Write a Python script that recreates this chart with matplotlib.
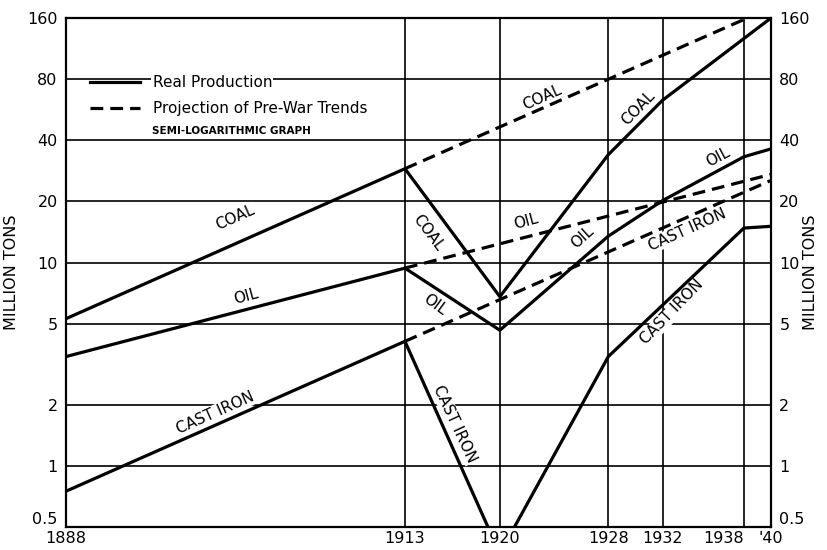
import numpy as np
import matplotlib
matplotlib.use('Agg')
from matplotlib import pyplot as plt
from matplotlib.lines import Line2D

# real production (million tons)
coal_years = [1888, 1913, 1920, 1928, 1932, 1940]
coal_real = [5.3, 29, 6.8, 34, 63, 160]
oil_years = [1888, 1913, 1920, 1928, 1932, 1938, 1940]
oil_real = [3.45, 9.4, 4.65, 13.5, 20.2, 33.2, 36.3]
iron_years = [1888, 1913, 1920, 1928, 1938, 1940]
iron_real = [0.75, 4.1, 0.37, 3.45, 14.8, 15.1]

# projection of pre-war trends
proj_years = [1913, 1940]
coal_proj = [29, 180]
oil_proj = [9.4, 27.2]
iron_proj = [4.1, 25.4]

yticks = [0.5, 1, 2, 5, 10, 20, 40, 80, 160]
ytick_labels = ['0.5', '1', '2', '5', '10', '20', '40', '80', '160']
xticks = [1888, 1913, 1920, 1928, 1932, 1938, 1940]
xtick_labels = ['1888', '1913', '1920', '1928', '1932', '1938', "'40"]

plt.rcParams['font.family'] = ['DejaVu Sans']

fig = plt.figure(figsize=(8.27, 5.5), dpi=100)
ax = fig.add_axes([66/827, 1 - 527/550, 705/827, 509/550])
ax.set_yscale('log')
ax.set_xlim(1888, 1940)
ax.set_ylim(0.5, 160)

# grid
for v in yticks[1:-1]:
    ax.axhline(v, color='black', lw=1.2, zorder=1)
for x in xticks[1:-1]:
    ax.axvline(x, color='black', lw=1.2, zorder=1)

lw = 2.3
ax.plot(coal_years, coal_real, color='black', lw=lw, zorder=3)
ax.plot(oil_years, oil_real, color='black', lw=lw, zorder=3)
ax.plot(iron_years, iron_real, color='black', lw=lw, zorder=3)
for proj in [coal_proj, oil_proj, iron_proj]:
    ax.plot(proj_years, proj, color='black', lw=lw, dashes=(4, 2.2), zorder=3)

# ticks
ax.set_yticks(yticks)
ax.set_yticklabels(ytick_labels)
ax.yaxis.set_minor_locator(matplotlib.ticker.NullLocator())
ax.set_xticks(xticks)
ax.set_xticklabels(xtick_labels)
ax.tick_params(axis='y', length=0, labelsize=11.5, pad=6, right=True, labelright=True)
ax.tick_params(axis='x', length=0, labelsize=11.5, pad=3)
for s in ax.spines.values():
    s.set_linewidth(1.6)

# bottom 0.5 labels sit above the corner, 1938 sits left of its line
for t in [ax.yaxis.get_majorticklabels()[0]]:
    t.set_va('bottom')
for tk in ax.yaxis.get_major_ticks()[:1]:
    tk.label2.set_va('bottom')
xl = ax.xaxis.get_majorticklabels()
xl[5].set_ha('right')
xl[5].set_x(1938.3)

ax.set_ylabel('MILLION TONS', fontsize=11.5)
ax.yaxis.set_label_coords(-0.066, 0.5)
ax.text(1.056, 0.5, 'MILLION TONS', transform=ax.transAxes, rotation=90,
        ha='center', va='center', fontsize=11.5)

# line labels
box = dict(facecolor='white', edgecolor='none', pad=0.5)
labels = [
    ('COAL', 1900.5, 16.6, 24),
    ('OIL', 1901.3, 6.8, 15),
    ('CAST IRON', 1899.0, 1.82, 24),
    ('COAL', 1914.7, 14.0, -53),
    ('OIL', 1915.2, 6.2, -36),
    ('CAST IRON', 1916.7, 1.6, -65),
    ('COAL', 1923.1, 64.7, 24),
    ('COAL', 1930.2, 57.7, 46),
    ('OIL', 1921.9, 15.9, 15),
    ('OIL', 1926.1, 13.4, 42),
    ('OIL', 1936.1, 33.1, 28),
    ('CAST IRON', 1933.8, 14.5, 24),
    ('CAST IRON', 1932.7, 5.7, 46),
]
for s, x, y, r in labels:
    ax.text(x, y, s, rotation=r, ha='center', va='center', fontsize=11,
            rotation_mode='anchor', bbox=box, zorder=2)

# legend
handles = [Line2D([], [], color='black', lw=lw),
           Line2D([], [], color='black', lw=lw, dashes=(4, 2.2))]
leg = ax.legend(handles, ['Real Production', 'Projection of Pre-War Trends'],
                loc='upper left', bbox_to_anchor=(0.034, 0.888), frameon=False,
                borderpad=0, borderaxespad=0, handlelength=3.3,
                handletextpad=0.8, labelspacing=0.75, fontsize=11)
for t in leg.get_texts():
    t.set_bbox(dict(facecolor='white', edgecolor='none', pad=1))
leg.set_zorder(4)
ax.text(0.234, 0.778, 'SEMI-LOGARITHMIC GRAPH', transform=ax.transAxes,
        ha='center', va='center', fontsize=7.5, fontweight='bold', zorder=4)

fig.savefig('out.png', dpi=100)
